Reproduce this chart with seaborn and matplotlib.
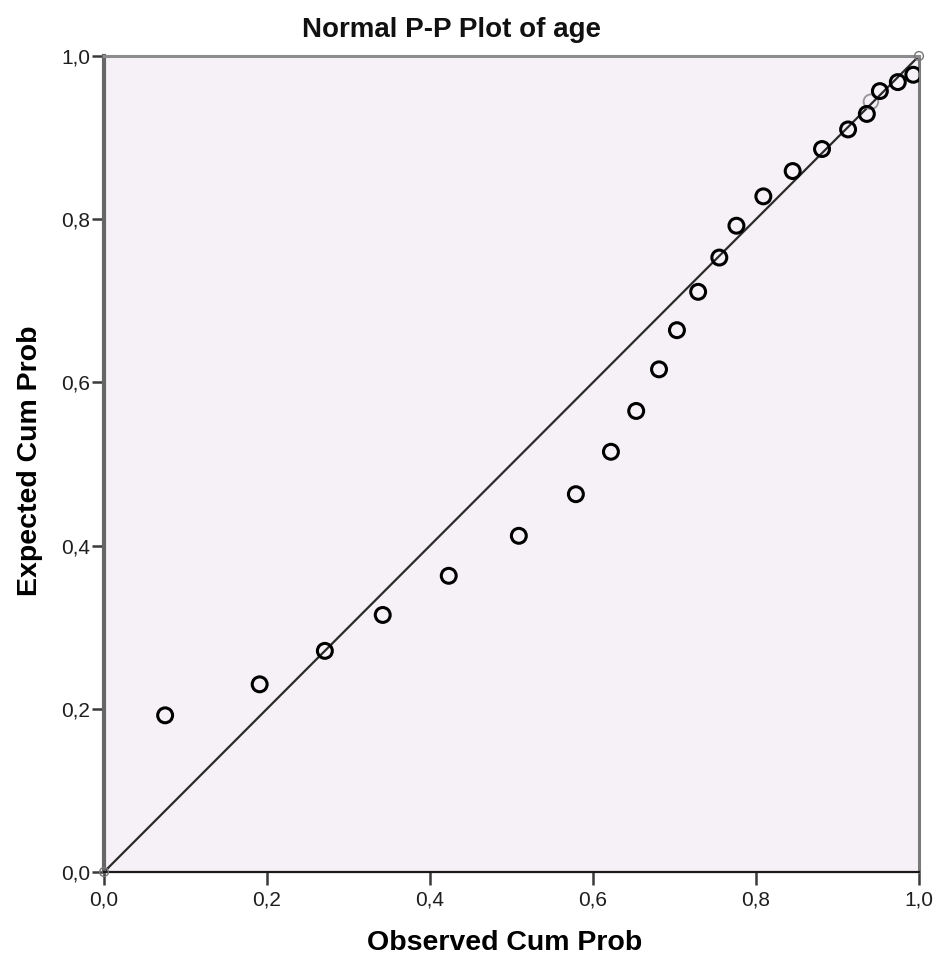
import matplotlib
matplotlib.use("Agg")
import matplotlib.pyplot as plt
from matplotlib.ticker import FuncFormatter
import seaborn as sns

# Observed vs expected cumulative probabilities for age
observed = [0.075, 0.191, 0.271, 0.342, 0.423, 0.509, 0.579, 0.622, 0.653,
            0.681, 0.703, 0.729, 0.755, 0.776, 0.809, 0.845, 0.881, 0.913,
            0.936, 0.952, 0.974, 0.993]
expected = [0.192, 0.230, 0.271, 0.315, 0.363, 0.412, 0.463, 0.515, 0.565,
            0.616, 0.664, 0.711, 0.753, 0.792, 0.828, 0.859, 0.886, 0.910,
            0.929, 0.957, 0.968, 0.977]
# faint overlapping point and the endpoints of the distribution
faint_obs = [0.941]
faint_exp = [0.944]
end_obs = [0.0, 1.0]
end_exp = [0.0, 1.0]
ref_line = [0.0, 1.0]
ticks = [0.0, 0.2, 0.4, 0.6, 0.8, 1.0]

sns.set_theme(style="white")
plt.rcParams["font.family"] = ["Liberation Sans", "DejaVu Sans"]

W, H = 936, 959
fig = plt.figure(figsize=(W / 100, H / 100), dpi=100)
ax = fig.add_axes([104 / W, 1 - 872 / H, 815 / W, 816 / H])
ax.set_facecolor("#F6F1F6")

sns.lineplot(x=ref_line, y=ref_line, ax=ax, color="#2b2b2b", linewidth=1.6)
sns.scatterplot(x=faint_obs, y=faint_exp, ax=ax, marker="o", s=110,
                facecolor="none", edgecolor="#9a9a9a", linewidth=1.4, zorder=3)
sns.scatterplot(x=observed, y=expected, ax=ax, marker="o", s=115,
                facecolor="none", edgecolor="black", linewidth=2.2, zorder=4)
sns.scatterplot(x=end_obs, y=end_exp, ax=ax, marker="o", s=40,
                facecolor="none", edgecolor="#777777", linewidth=1.0,
                zorder=4, clip_on=False)

ax.set_xlim(0, 1)
ax.set_ylim(0, 1)
ax.set_xticks(ticks)
ax.set_yticks(ticks)
fmt = FuncFormatter(lambda v, p: f"{v:.1f}".replace(".", ","))
ax.xaxis.set_major_formatter(fmt)
ax.yaxis.set_major_formatter(fmt)
ax.tick_params(axis="both", which="major", direction="out", length=9,
               width=1.8, color="#3a3a3a", labelsize=15, labelcolor="#1e1e1e",
               bottom=True, left=True)
ax.tick_params(axis="x", pad=4)
ax.tick_params(axis="y", pad=1)

ax.spines["left"].set_color("#666666")
ax.spines["left"].set_linewidth(3.0)
ax.spines["bottom"].set_color("#1a1a1a")
ax.spines["bottom"].set_linewidth(1.6)
ax.spines["top"].set_color("#8c8c8c")
ax.spines["top"].set_linewidth(2.2)
ax.spines["right"].set_color("#7a7a7a")
ax.spines["right"].set_linewidth(2.2)

fig.text(451.5 / W, 1 - 37 / H, "Normal P-P Plot of age", fontsize=20,
         fontweight="bold", color="#111111", ha="center", va="baseline")

ax.set_xlabel("Observed Cum Prob", fontsize=20.5, fontweight="bold",
              color="black", va="center", ha="center")
ax.xaxis.set_label_coords((504.5 - 104) / 815, (872 - 943) / 816)
ax.set_ylabel("Expected Cum Prob", fontsize=20.5, fontweight="bold",
              color="black", va="center", ha="center")
ax.yaxis.set_label_coords((30 - 104) / 815, (872 - 461) / 816)

fig.savefig("out.png", dpi=100)
